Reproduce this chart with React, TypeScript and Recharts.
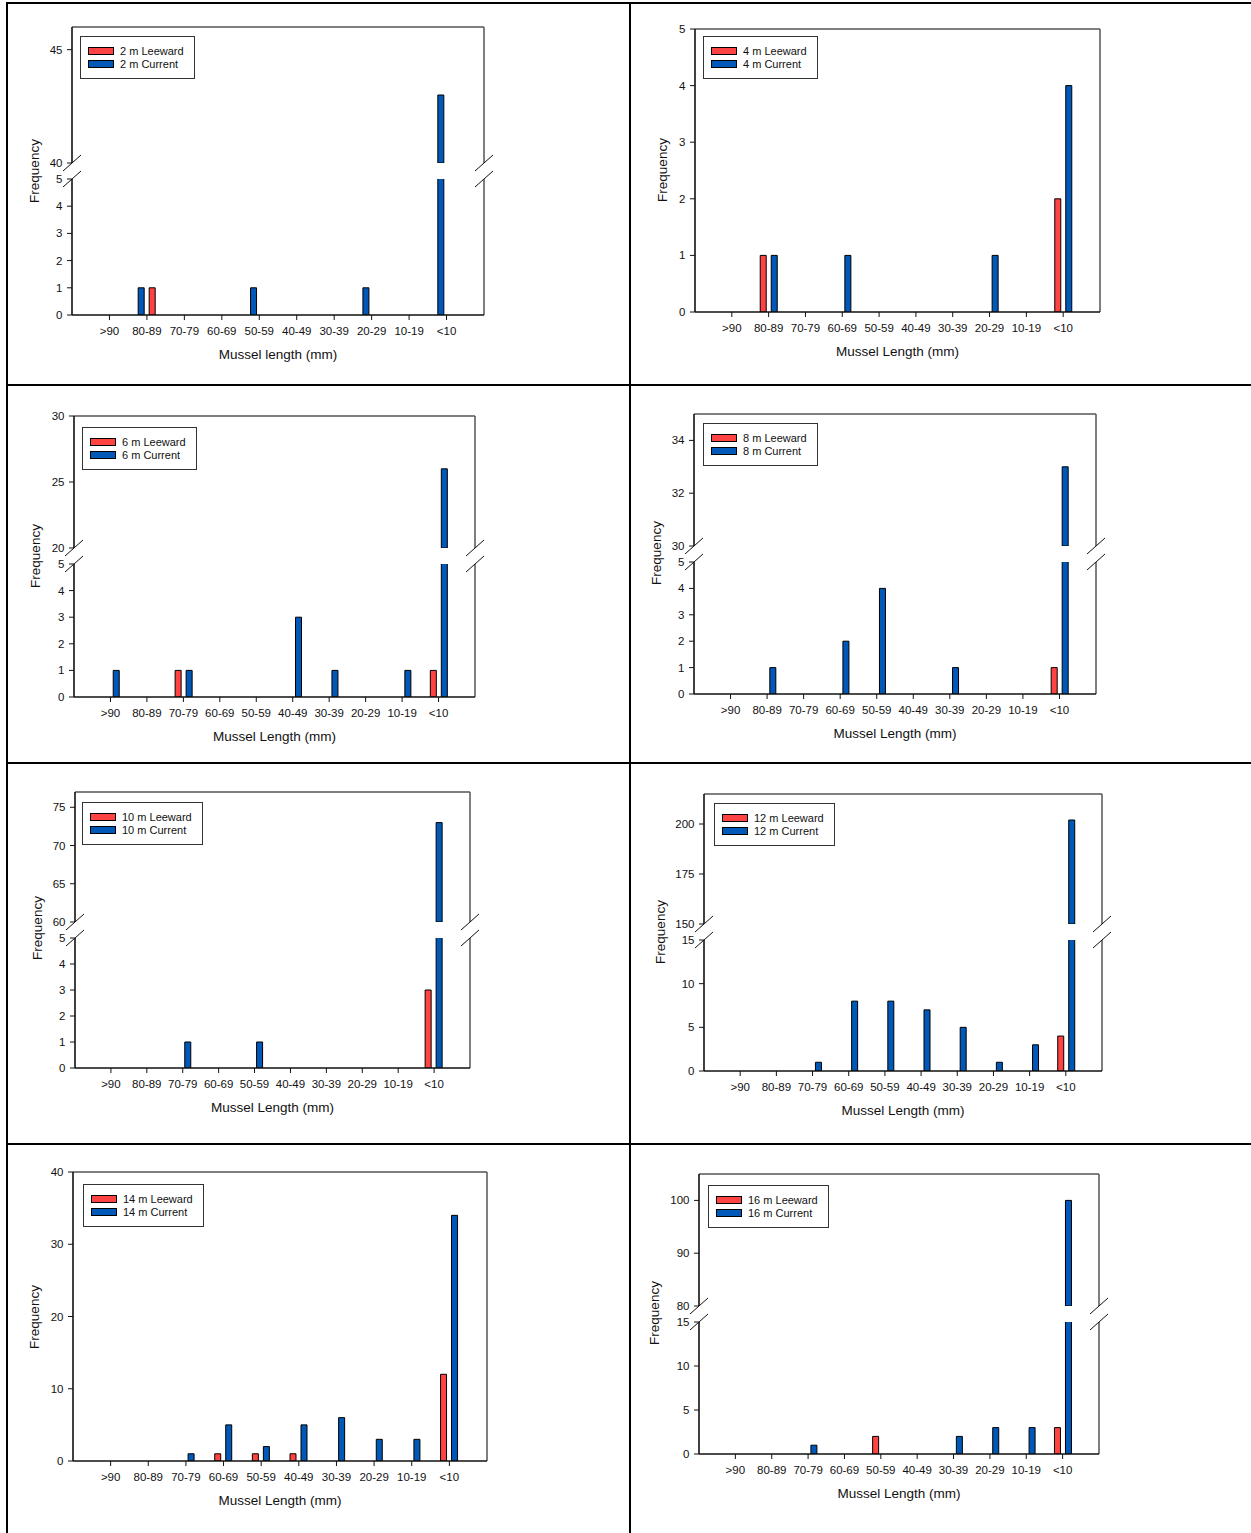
import React from 'react';
import { BarChart, Bar, XAxis, YAxis, ReferenceLine, Legend } from 'recharts';

// ---------- data ----------
const categories = ['>90', '80-89', '70-79', '60-69', '50-59', '40-49', '30-39', '20-29', '10-19', '<10'];
const positions = categories.map((_, i) => i + 1);

const leeward2 = [0, 1, 0, 0, 0, 0, 0, 0, 0, 0];
const current2 = [0, 1, 0, 0, 1, 0, 0, 1, 0, 43];
const leeward4 = [0, 1, 0, 0, 0, 0, 0, 0, 0, 2];
const current4 = [0, 1, 0, 1, 0, 0, 0, 1, 0, 4];
const leeward6 = [0, 0, 1, 0, 0, 0, 0, 0, 0, 1];
const current6 = [1, 0, 1, 0, 0, 3, 1, 0, 1, 26];
const leeward8 = [0, 0, 0, 0, 0, 0, 0, 0, 0, 1];
const current8 = [0, 1, 0, 2, 4, 0, 1, 0, 0, 33];
const leeward10 = [0, 0, 0, 0, 0, 0, 0, 0, 0, 3];
const current10 = [0, 0, 1, 0, 1, 0, 0, 0, 0, 73];
const leeward12 = [0, 0, 0, 0, 0, 0, 0, 0, 0, 4];
const current12 = [0, 0, 1, 8, 8, 7, 5, 1, 3, 202];
const leeward14 = [0, 0, 0, 1, 1, 1, 0, 0, 0, 12];
const current14 = [0, 0, 1, 5, 2, 5, 6, 3, 3, 34];
const leeward16 = [0, 0, 0, 0, 2, 0, 0, 0, 0, 3];
const current16 = [0, 0, 1, 0, 0, 0, 2, 3, 3, 100];

// ---------- styles ----------
const RED = '#ff4343';
const BLUE = '#0058b8';
const FONT = '"Liberation Sans", Arial, Helvetica, sans-serif';
const INK = '#111';

type Seg = { y1: number; y2: number; domain: [number, number]; ticks: number[] };
type PanelCfg = {
  depth: number;
  leeward: number[];
  current: number[];
  x1: number;
  x2: number;
  upper?: Seg;
  lower: Seg;
  currentFirst?: boolean;
  xTitle: string;
  yLabel: { x: number; y: number };
  legend: { x: number; y: number };
};

const t05 = [0, 1, 2, 3, 4, 5];
const t015 = [0, 5, 10, 15];

const panels: PanelCfg[] = [
  {
    depth: 2, leeward: leeward2, current: current2, x1: 72, x2: 484,
    upper: { y1: 27, y2: 163, domain: [40, 46], ticks: [40, 45] },
    lower: { y1: 179, y2: 315, domain: [0, 5], ticks: t05 },
    currentFirst: true, xTitle: 'Mussel length (mm)',
    yLabel: { x: 34, y: 171 }, legend: { x: 80, y: 36 },
  },
  {
    depth: 4, leeward: leeward4, current: current4, x1: 695, x2: 1100,
    lower: { y1: 29, y2: 312, domain: [0, 5], ticks: t05 },
    xTitle: 'Mussel Length (mm)', yLabel: { x: 662, y: 170 }, legend: { x: 703, y: 36 },
  },
  {
    depth: 6, leeward: leeward6, current: current6, x1: 74, x2: 475,
    upper: { y1: 416, y2: 548, domain: [20, 30], ticks: [20, 25, 30] },
    lower: { y1: 564, y2: 697, domain: [0, 5], ticks: t05 },
    xTitle: 'Mussel Length (mm)', yLabel: { x: 35, y: 556 }, legend: { x: 82, y: 427 },
  },
  {
    depth: 8, leeward: leeward8, current: current8, x1: 694, x2: 1096,
    upper: { y1: 414, y2: 546, domain: [30, 35], ticks: [30, 32, 34] },
    lower: { y1: 562, y2: 694, domain: [0, 5], ticks: t05 },
    xTitle: 'Mussel Length (mm)', yLabel: { x: 656, y: 553 }, legend: { x: 703, y: 423 },
  },
  {
    depth: 10, leeward: leeward10, current: current10, x1: 75, x2: 470,
    upper: { y1: 792, y2: 922, domain: [60, 77], ticks: [60, 65, 70, 75] },
    lower: { y1: 938, y2: 1068, domain: [0, 5], ticks: t05 },
    xTitle: 'Mussel Length (mm)', yLabel: { x: 37, y: 928 }, legend: { x: 82, y: 802 },
  },
  {
    depth: 12, leeward: leeward12, current: current12, x1: 704, x2: 1102,
    upper: { y1: 794, y2: 924, domain: [150, 215], ticks: [150, 175, 200] },
    lower: { y1: 940, y2: 1071, domain: [0, 15], ticks: t015 },
    xTitle: 'Mussel Length (mm)', yLabel: { x: 660, y: 932 }, legend: { x: 714, y: 803 },
  },
  {
    depth: 14, leeward: leeward14, current: current14, x1: 73, x2: 487,
    lower: { y1: 1172, y2: 1461, domain: [0, 40], ticks: [0, 10, 20, 30, 40] },
    xTitle: 'Mussel Length (mm)', yLabel: { x: 34, y: 1317 }, legend: { x: 83, y: 1184 },
  },
  {
    depth: 16, leeward: leeward16, current: current16, x1: 699, x2: 1099,
    upper: { y1: 1174, y2: 1306, domain: [80, 105], ticks: [80, 90, 100] },
    lower: { y1: 1322, y2: 1454, domain: [0, 15], ticks: t015 },
    xTitle: 'Mussel Length (mm)', yLabel: { x: 654, y: 1313 }, legend: { x: 708, y: 1185 },
  },
];

const YW = 60;
const MT = 10;
const MR = 12;

function LegendBox({ depth }: { depth: number }) {
  const row = (color: string, text: string) => (
    <div style={{ display: 'flex', alignItems: 'center', height: 12.5 }}>
      <div
        style={{
          width: 26, height: 8, boxSizing: 'border-box', border: '1px solid #000',
          background: color, marginRight: 6, flex: 'none',
        }}
      />
      <span style={{ fontSize: 11, lineHeight: '12.5px', color: INK, whiteSpace: 'nowrap' }}>{text}</span>
    </div>
  );
  return (
    <div
      style={{
        border: '1px solid #333', background: '#fff', padding: '8px 10px 8px 7px',
        fontFamily: FONT, display: 'inline-block',
      }}
    >
      {row(RED, `${depth} m Leeward`)}
      {row(BLUE, `${depth} m Current`)}
    </div>
  );
}

function SegmentChart({ panel, seg, isUpper, showTop, withLegend }: {
  panel: PanelCfg; seg: Seg; isUpper: boolean; showTop: boolean; withLegend: boolean;
}) {
  const plotW = panel.x2 - panel.x1;
  const plotH = seg.y2 - seg.y1;
  const showX = !isUpper;
  const mb = showX ? 50 : 10;
  const width = YW + plotW + MR;
  const height = MT + plotH + (showX ? 30 : 0) + mb;
  const left = panel.x1 - YW;
  const top = seg.y1 - MT;
  const lo = seg.domain[0];
  const data = categories.map((cat, i) => {
    const l = panel.leeward[i];
    const c = panel.current[i];
    return {
      pos: i + 1,
      cat,
      leeward: isUpper ? (l > lo ? l : null) : l,
      current: isUpper ? (c > lo ? c : null) : c,
    };
  });
  const leewardBar = (
    <Bar key="lee" dataKey="leeward" fill={RED} stroke="#000" strokeWidth={1} isAnimationActive={false} />
  );
  const currentBar = (
    <Bar key="cur" dataKey="current" fill={BLUE} stroke="#000" strokeWidth={1} isAnimationActive={false} />
  );
  const bars = panel.currentFirst ? [currentBar, leewardBar] : [leewardBar, currentBar];

  return (
    <div style={{ position: 'absolute', left, top, width, height }}>
      <BarChart
        width={width}
        height={height}
        data={data}
        margin={{ top: MT, right: MR, bottom: mb, left: 0 }}
        barSize={6}
        barGap={5}
      >
        <XAxis
          dataKey="pos"
          type="number"
          domain={[0, 11]}
          ticks={positions}
          interval={0}
          hide={!showX}
          height={30}
          tickSize={5}
          tickMargin={6.5}
          tickFormatter={(v: number) => categories[v - 1] ?? ''}
          tick={{ fontSize: 11.5, fill: INK, fontFamily: FONT }}
          tickLine={{ stroke: INK, strokeWidth: 1 }}
          axisLine={{ stroke: INK, strokeWidth: 1.6 }}
          label={
            showX
              ? { value: panel.xTitle, position: 'bottom', offset: 4, fontSize: 13.5, fill: INK, fontFamily: FONT }
              : undefined
          }
        />
        <YAxis
          type="number"
          domain={seg.domain}
          ticks={seg.ticks}
          interval={0}
          allowDataOverflow
          width={YW}
          tickSize={5}
          tickMargin={4.5}
          tick={{ fontSize: 11.5, fill: INK, fontFamily: FONT }}
          tickLine={{ stroke: INK, strokeWidth: 1 }}
          axisLine={{ stroke: INK, strokeWidth: 1.6 }}
        />
        {showTop && (
          <ReferenceLine y={seg.domain[1]} stroke="#555" strokeWidth={1.5} ifOverflow="visible" />
        )}
        <ReferenceLine x={11} stroke="#555" strokeWidth={1.5} ifOverflow="visible" />
        {bars}
        {withLegend && (
          <Legend
            layout="vertical"
            align="center"
            verticalAlign="middle"
            wrapperStyle={{
              left: panel.legend.x - left,
              top: panel.legend.y - top,
              width: 'auto',
              height: 'auto',
            }}
            content={() => <LegendBox depth={panel.depth} />}
          />
        )}
      </BarChart>
    </div>
  );
}

function Panel({ panel }: { panel: PanelCfg }) {
  const broken = !!panel.upper;
  return (
    <>
      <SegmentChart panel={panel} seg={panel.lower} isUpper={false} showTop={!broken} withLegend={!broken} />
      {broken && panel.upper && (
        <SegmentChart panel={panel} seg={panel.upper} isUpper showTop withLegend />
      )}
      <div
        style={{
          position: 'absolute', left: panel.yLabel.x, top: panel.yLabel.y,
          transform: 'translate(-50%, -50%) rotate(-90deg)', fontFamily: FONT,
          fontSize: 13.5, color: INK, whiteSpace: 'nowrap', lineHeight: '15px',
        }}
      >
        Frequency
      </div>
    </>
  );
}

function BreakMarks() {
  const lines: React.ReactNode[] = [];
  panels.forEach((p, k) => {
    if (!p.upper) return;
    const ys = [p.upper.y2, p.lower.y1];
    const xs = [p.x1, p.x2];
    xs.forEach((x, i) =>
      ys.forEach((y, j) => {
        lines.push(
          <line key={`${k}-${i}-${j}`} x1={x - 9} y1={y + 8} x2={x + 9} y2={y - 8} stroke="#111" strokeWidth={1} />
        );
      })
    );
  });
  return (
    <svg width={1251} height={1533} style={{ position: 'absolute', left: 0, top: 0, pointerEvents: 'none' }}>
      {lines}
    </svg>
  );
}

function Borders() {
  const s = (l: number, t: number, w: number, h: number, key: string) => (
    <div key={key} style={{ position: 'absolute', left: l, top: t, width: w, height: h, background: '#000' }} />
  );
  return (
    <>
      {s(6, 2, 1245, 2, 'top')}
      {s(6, 2, 2, 1531, 'left')}
      {s(629, 2, 2, 1531, 'mid')}
      {s(6, 384, 1245, 2, 'h1')}
      {s(6, 762, 1245, 2, 'h2')}
      {s(6, 1143, 1245, 2, 'h3')}
    </>
  );
}

export default function App() {
  return (
    <div
      style={{
        position: 'absolute', left: 0, top: 0, width: 1251, height: 1533,
        background: '#fff', overflow: 'hidden', fontFamily: FONT,
      }}
    >
      <Borders />
      {panels.map((p) => (
        <Panel key={p.depth} panel={p} />
      ))}
      <BreakMarks />
    </div>
  );
}
